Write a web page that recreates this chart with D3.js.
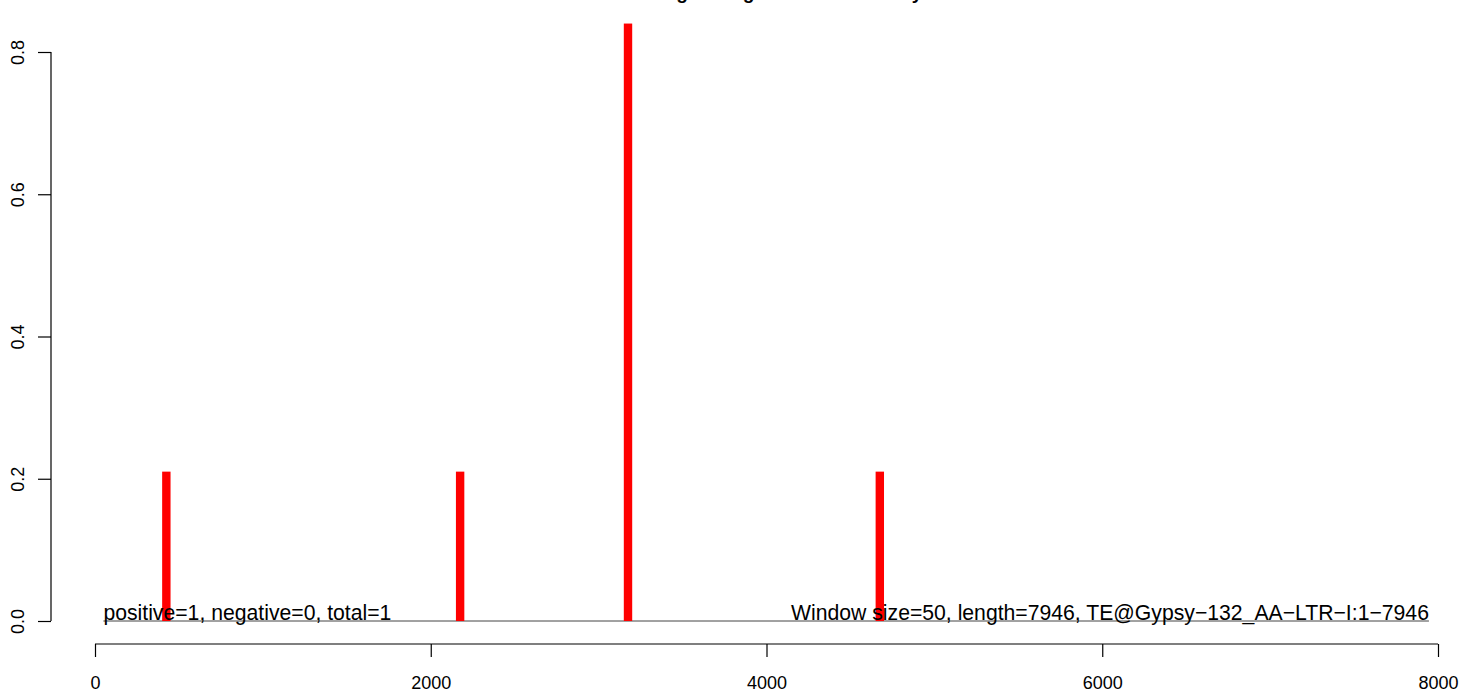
<!DOCTYPE html>
<html>
<head>
<meta charset="utf-8">
<script src="https://cdn.jsdelivr.net/npm/d3@7"></script>
<style>
  html, body { margin: 0; padding: 0; background: #fff; }
  svg { display: block; font-family: "Liberation Sans", Arial, Helvetica, sans-serif; }
</style>
</head>
<body>
<svg id="chart" width="1466" height="695"></svg>
<script>
// ---- data ----
const windowSize = 50;
const binStarts = [400, 2150, 3150, 4650];
const binValues = [0.21, 0.21, 0.84, 0.21];
const xTicks = [0, 2000, 4000, 6000, 8000];
const yTicks = [0.0, 0.2, 0.4, 0.6, 0.8];
const yTickLabels = ["0.0", "0.2", "0.4", "0.6", "0.8"];
const baselineRange = [50, 7946];
const leftNote = "positive=1, negative=0, total=1";
const rightNote = "Window size=50, length=7946, TE@Gypsy\u2212132_AA\u2212LTR\u2212I:1\u22127946";
const titleText = "Tracking the signal of read density";

// ---- scales ----
const x = d3.scaleLinear().domain([0, 8000]).range([95, 1438]);
const y = d3.scaleLinear().domain([0, 0.8]).range([621, 52]);

const svg = d3.select("#chart");

// title (mostly above the visible area, as in the reference)
svg.append("text")
  .attr("x", 766).attr("y", -1)
  .attr("text-anchor", "middle")
  .attr("font-weight", "bold")
  .attr("font-size", 19)
  .text(titleText);

// baseline
svg.append("line")
  .attr("x1", x(baselineRange[0])).attr("x2", x(baselineRange[1]))
  .attr("y1", y(0)).attr("y2", y(0))
  .attr("stroke", "#444").attr("stroke-width", 1);

// bars
svg.append("g").selectAll("rect")
  .data(binStarts.map((s, i) => ({ s, v: binValues[i] })))
  .join("rect")
  .attr("x", d => x(d.s))
  .attr("width", d => x(d.s + windowSize) - x(d.s))
  .attr("y", d => y(d.v))
  .attr("height", d => y(0) - y(d.v))
  .attr("fill", "#ff0000");

// notes
svg.append("text")
  .attr("x", x(baselineRange[0])).attr("y", y(0) - 1)
  .attr("font-size", 21.2)
  .attr("text-anchor", "start")
  .text(leftNote);
svg.append("text")
  .attr("x", x(baselineRange[1])).attr("y", y(0) - 1)
  .attr("font-size", 21.2)
  .attr("text-anchor", "end")
  .text(rightNote);

// x axis
const xAxis = d3.axisBottom(x).tickValues(xTicks).tickSize(13).tickPadding(19)
  .tickFormat(d3.format("d"));
const gx = svg.append("g").attr("transform", "translate(0,644)").call(xAxis);
gx.select(".domain").attr("d", `M${x(0)},0H${x(8000)}`).attr("stroke", "#000").attr("stroke-width", 1.2);
gx.selectAll("text").attr("font-size", 18).attr("font-family", "Liberation Sans, Arial, sans-serif").attr("fill", "#000");
gx.selectAll("line").attr("stroke", "#000").attr("stroke-width", 1.2);

// y axis
const yAxis = d3.axisLeft(y).tickValues(yTicks).tickSize(13)
  .tickFormat((d, i) => yTickLabels[i]);
const gy = svg.append("g").attr("transform", "translate(51,0)").call(yAxis);
gy.select(".domain").attr("d", `M0,${y(0)}V${y(0.8)}`).attr("stroke", "#000").attr("stroke-width", 1.2);
gy.selectAll("line").attr("stroke", "#000").attr("stroke-width", 1.2);
gy.selectAll("text")
  .attr("font-size", 18)
  .attr("font-family", "Liberation Sans, Arial, sans-serif")
  .attr("fill", "#000")
  .attr("text-anchor", "middle")
  .attr("dy", null)
  .attr("x", null)
  .attr("transform", "translate(-27,0) rotate(-90)");
</script>
</body>
</html>
